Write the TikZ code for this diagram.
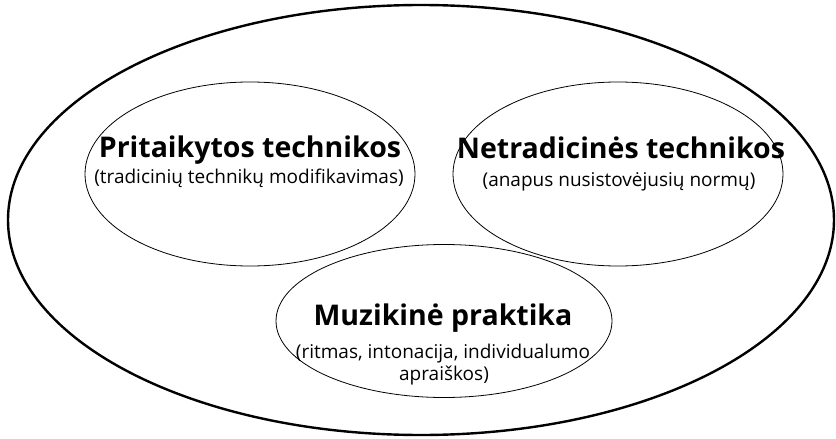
\documentclass[tikz,border=0pt]{standalone}
\usepackage{fontspec}
\setmainfont{Open Sans}
\usetikzlibrary{shapes.geometric}
\begin{document}
\begin{tikzpicture}[x=1pt,y=-1pt,
  oval/.style={draw=black,ellipse,inner sep=0pt,line width=0.8pt},
  bigoval/.style={draw=black,ellipse,inner sep=0pt,line width=2.4pt},
  ttl/.style={anchor=base,inner sep=0pt,font=\fontsize{28.5}{32}\selectfont\bfseries},
  sub/.style={anchor=base,inner sep=0pt,font=\fontsize{19}{22}\selectfont}]
\useasboundingbox (0,0) rectangle (836,439);
\node[bigoval,minimum width=826pt,minimum height=430pt] (outer) at (421,220) {};
\node[oval,minimum width=330pt,minimum height=184pt] (left) at (250,174) {};
\node[oval,minimum width=330pt,minimum height=184pt] (right) at (618,174) {};
\node[oval,minimum width=336pt,minimum height=153pt] (bottom) at (444,321) {};
\node[ttl] (lt) at (250,157) {Pritaikytos technikos};
\node[sub] (ls) at (249,183) {(tradicinių technikų modifikavimas)};
\node[ttl] (rt) at (621,158) {Netradicinės technikos};
\node[sub] (rs) at (619,186) {(anapus nusistovėjusių normų)};
\node[ttl] (bt) at (443,325) {Muzikinė praktika};
\node[sub] (bs1) at (443,358) {(ritmas, intonacija, individualumo};
\node[sub] (bs2) at (444,380) {apraiškos)};
\end{tikzpicture}
\end{document}
